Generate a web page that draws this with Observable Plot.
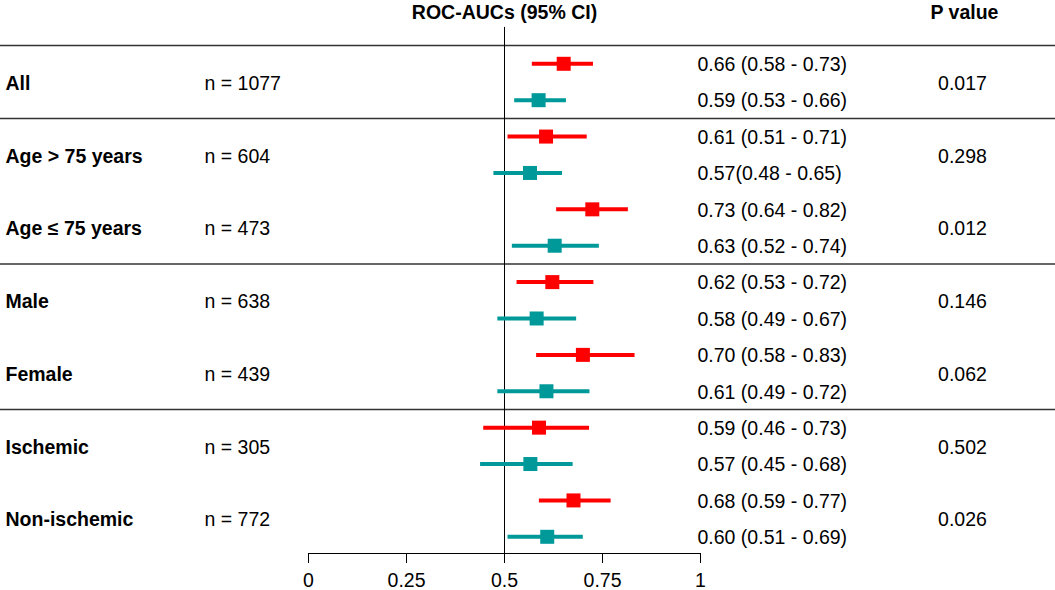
<!DOCTYPE html>
<html>
<head>
<meta charset="utf-8">
<script src="https://cdn.jsdelivr.net/npm/d3@7"></script>
<script src="https://cdn.jsdelivr.net/npm/@observablehq/plot@0.6"></script>
<style>
  html, body { margin: 0; padding: 0; background: #fff; }
  #chart svg { display: block; }
</style>
</head>
<body>
<div id="chart"></div>
<script>
// ---- data ----
const groups = ["All", "Age > 75 years", "Age \u2264 75 years", "Male", "Female", "Ischemic", "Non-ischemic"];
const sections = ["Overall", "Age", "Age", "Sex", "Sex", "Etiology", "Etiology"];
const nLabels = ["n = 1077", "n = 604", "n = 473", "n = 638", "n = 439", "n = 305", "n = 772"];
const pValues = ["0.017", "0.298", "0.012", "0.146", "0.062", "0.502", "0.026"];
const models = ["A", "B"]; // red, teal (two rows per group)
const ciLabels = [
  "0.66 (0.58 - 0.73)", "0.59 (0.53 - 0.66)",
  "0.61 (0.51 - 0.71)", "0.57(0.48 - 0.65)",
  "0.73 (0.64 - 0.82)", "0.63 (0.52 - 0.74)",
  "0.62 (0.53 - 0.72)", "0.58 (0.49 - 0.67)",
  "0.70 (0.58 - 0.83)", "0.61 (0.49 - 0.72)",
  "0.59 (0.46 - 0.73)", "0.57 (0.45 - 0.68)",
  "0.68 (0.59 - 0.77)", "0.60 (0.51 - 0.69)"
];
const estimates = [0.651, 0.587, 0.606, 0.565, 0.724, 0.628, 0.622, 0.582, 0.700, 0.607, 0.588, 0.566, 0.676, 0.609];
const lower =     [0.571, 0.526, 0.509, 0.473, 0.633, 0.520, 0.532, 0.483, 0.582, 0.483, 0.447, 0.439, 0.589, 0.509];
const upper =     [0.727, 0.658, 0.711, 0.648, 0.816, 0.742, 0.728, 0.684, 0.833, 0.718, 0.717, 0.675, 0.772, 0.701];
const tickValues = [0, 0.25, 0.5, 0.75, 1];
const tickLabels = ["0", "0.25", "0.5", "0.75", "1"];
const refValue = 0.5;

// ---- tables built from the arrays ----
const rows = ciLabels.map((ci, i) => ({
  row: i,
  group: groups[Math.floor(i / 2)],
  model: models[i % 2],
  ci,
  est: estimates[i],
  lo: lower[i],
  hi: upper[i]
}));
const groupRows = groups.map((g, j) => ({ group: g, n: nLabels[j], p: pValues[j], mid: j * 2 + 0.5 }));
const separators = groups
  .map((g, j) => (j === 0 || sections[j] !== sections[j - 1]) ? j * 2 - 0.5 : null)
  .filter(d => d !== null);

const colors = { A: "#ff0000", B: "#009999" };
const font = "'Liberation Sans', Arial, Helvetica, sans-serif";
const fs = 19.5;

const chart = Plot.plot({
  width: 1055,
  height: 590,
  marginLeft: 308,
  marginRight: 355,
  marginTop: 0,
  marginBottom: 37,
  style: { fontFamily: font, fontSize: fs + "px", background: "#fff", color: "#000", overflow: "visible" },
  x: { domain: [0, 1] },
  y: { domain: [0, rows.length - 1], range: [63.3, 536.3], axis: null },
  color: { domain: models, range: models.map(m => colors[m]) },
  marks: [
    // separators spanning the full width
    Plot.ruleY(separators, { y: d => d, stroke: "#333", strokeWidth: 1.5, insetLeft: -308, insetRight: -355 }),
    // reference line (from the header band down to the axis)
    Plot.ruleX([refValue], { x: d => d, y1: -1, y2: rows.length - 1, insetBottom: -16.7, stroke: "#000", strokeWidth: 1 }),
    // axis
    Plot.frame({ anchor: "bottom", stroke: "#000", strokeWidth: 1 }),
    Plot.axisX({
      ticks: tickValues,
      tickFormat: d => tickLabels[tickValues.indexOf(d)],
      tickSize: 10,
      tickPadding: 10,
      fontSize: fs,
      label: null,
      stroke: "#000"
    }),
    // CI lines and boxes
    Plot.ruleY(rows, { y: "row", x1: "lo", x2: "hi", stroke: "model", strokeWidth: 4 }),
    Plot.dot(rows, { x: "est", y: "row", symbol: "square", r: 7.9, fill: "model", stroke: "none" }),
    // text columns
    Plot.text(groupRows, { y: "mid", text: "group", frameAnchor: "left", dx: -303, dy: 1.5, textAnchor: "start", lineAnchor: "middle", fontWeight: "bold", fontSize: fs }),
    Plot.text(groupRows, { y: "mid", text: "n", frameAnchor: "left", dx: -104, dy: 1.5, textAnchor: "start", lineAnchor: "middle", fontSize: fs }),
    Plot.text(rows, { y: "row", text: "ci", frameAnchor: "right", dx: -3, dy: 1, textAnchor: "start", lineAnchor: "middle", fontSize: fs }),
    Plot.text(groupRows, { y: "mid", text: "p", frameAnchor: "right", dx: 262, dy: 1.5, textAnchor: "middle", lineAnchor: "middle", fontSize: fs }),
    // headers
    Plot.text(["ROC-AUCs (95% CI)"], { x: refValue, text: d => d, frameAnchor: "top", dy: 12, lineAnchor: "middle", fontWeight: "bold", fontSize: fs }),
    Plot.text(["P value"], { text: d => d, frameAnchor: "top-right", dx: 264, dy: 12, textAnchor: "middle", lineAnchor: "middle", fontWeight: "bold", fontSize: fs })
  ]
});
document.getElementById("chart").appendChild(chart);
</script>
</body>
</html>
